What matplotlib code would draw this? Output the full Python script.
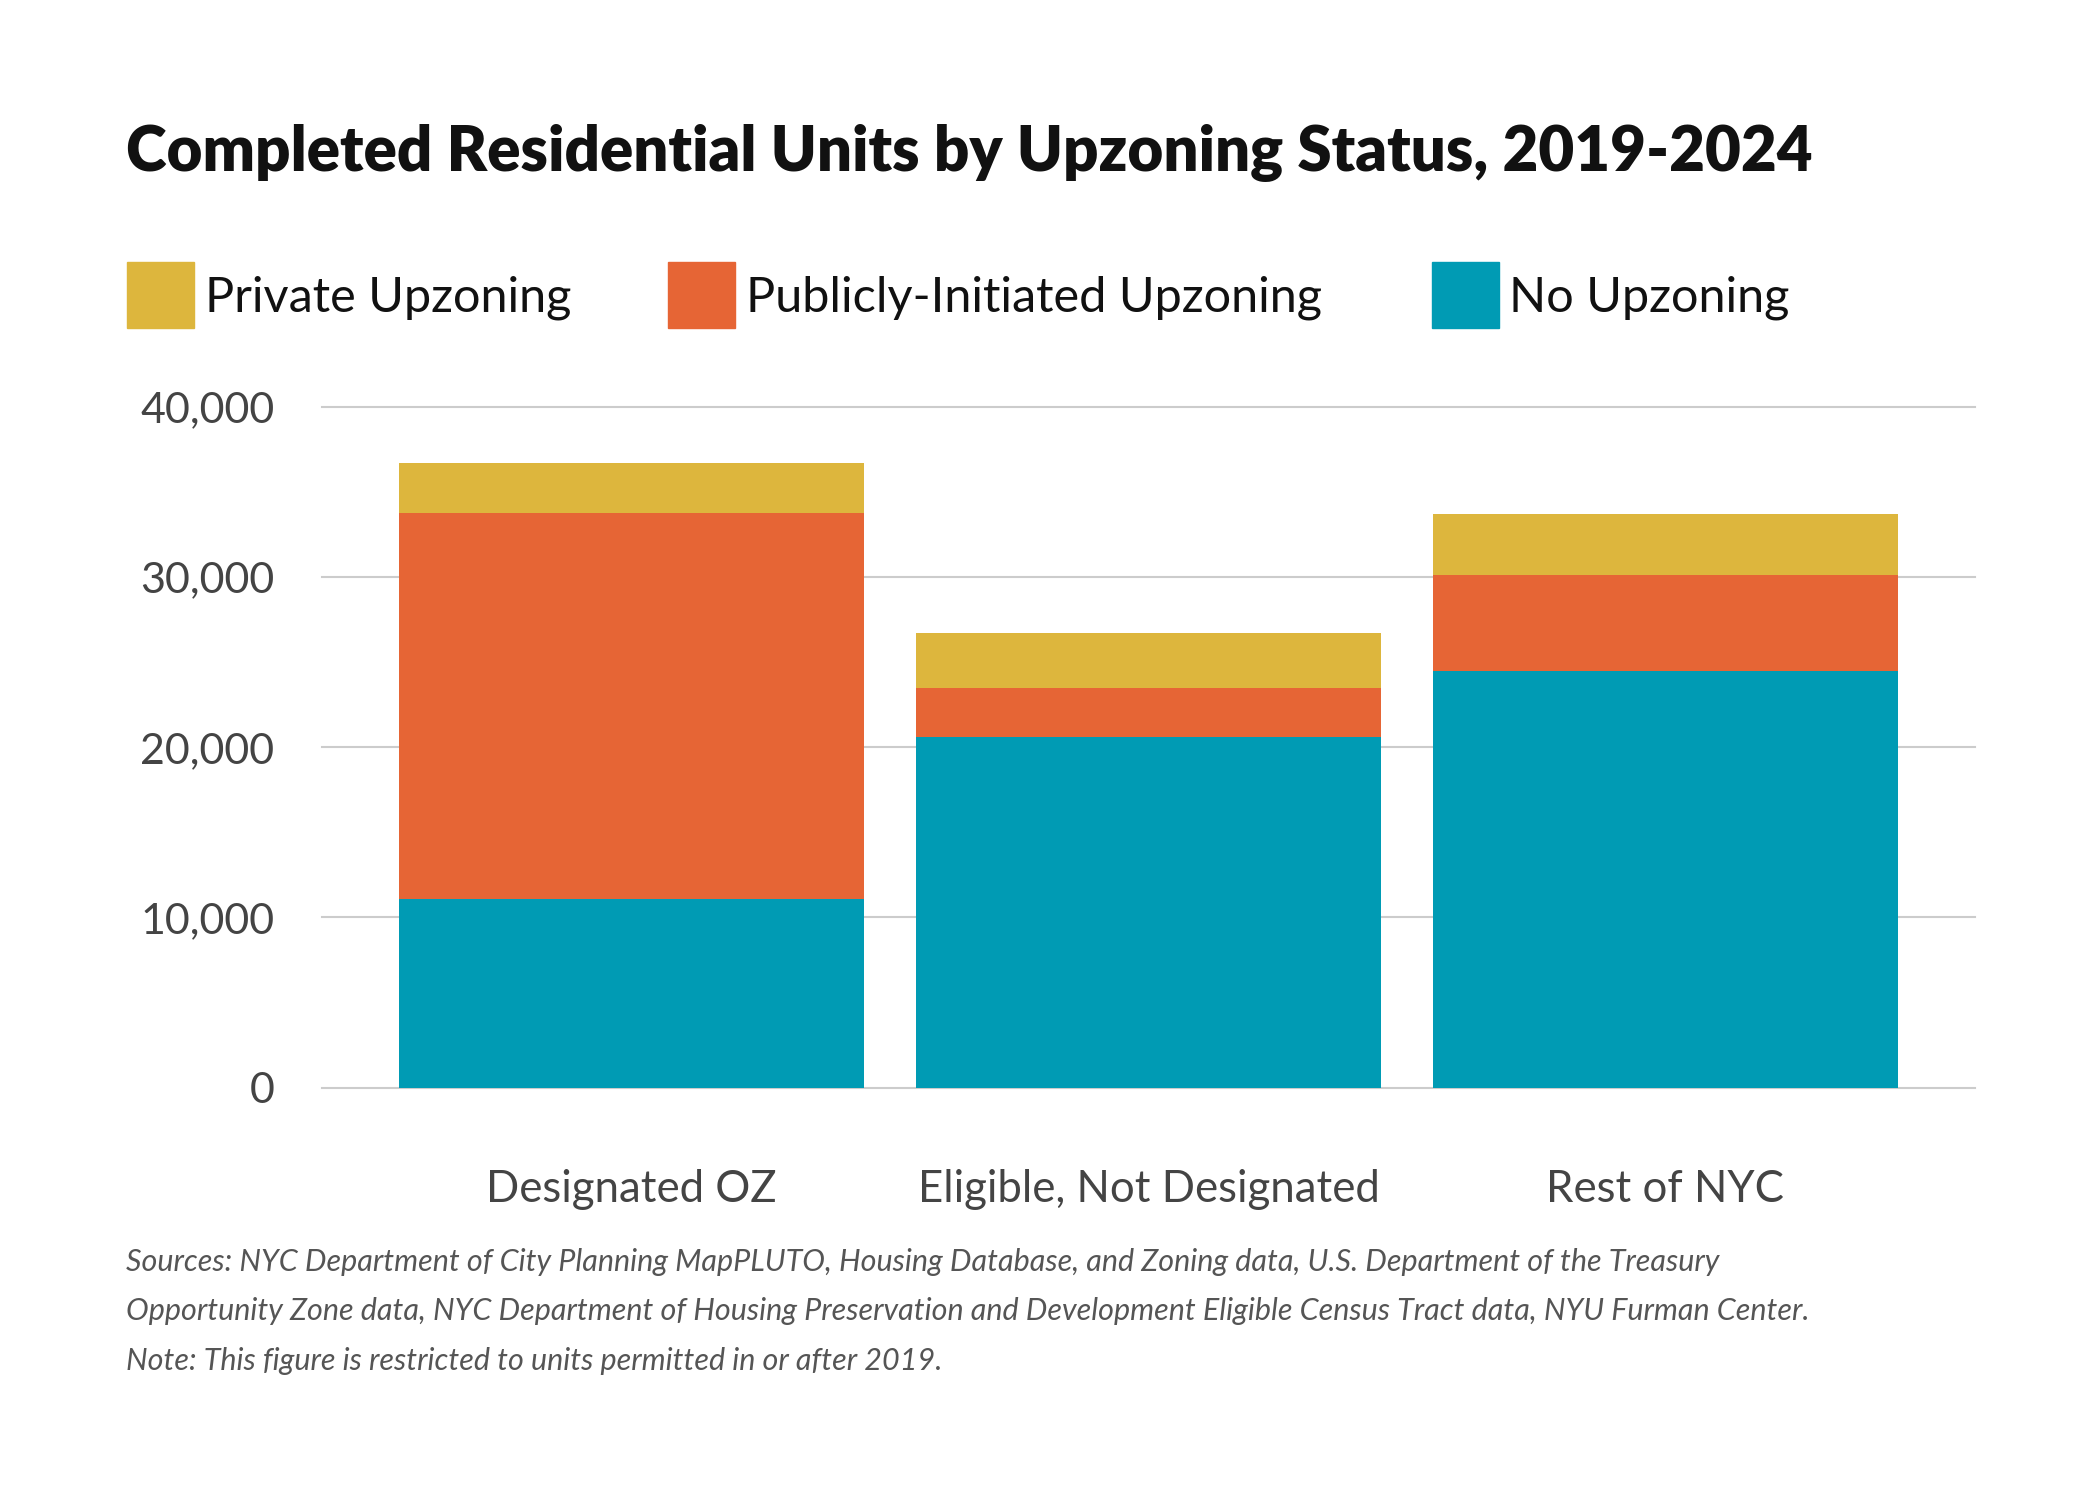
import matplotlib
matplotlib.use("Agg")
import matplotlib.pyplot as plt
from matplotlib.patches import Rectangle

categories = ["Designated OZ", "Eligible, Not Designated", "Rest of NYC"]
no_upzoning = [11100, 20600, 24500]
public_upzoning = [22700, 2900, 5600]
private_upzoning = [2900, 3200, 3600]
series_names = ["Private Upzoning", "Publicly-Initiated Upzoning", "No Upzoning"]
colors = {"Private Upzoning": "#DDB63D",
          "Publicly-Initiated Upzoning": "#E66535",
          "No Upzoning": "#009BB4"}
y_ticks = [0, 10000, 20000, 30000, 40000]

plt.rcParams['font.family'] = ['Lato', 'DejaVu Sans']

fig = plt.figure(figsize=(21, 15), dpi=100)
ax = fig.add_axes([0.1531, 0.275, 0.7876, 0.4536])

x = list(range(len(categories)))
ax.bar(x, no_upzoning, width=0.9, color=colors["No Upzoning"], zorder=3)
ax.bar(x, public_upzoning, width=0.9, bottom=no_upzoning,
       color=colors["Publicly-Initiated Upzoning"], zorder=3)
bottom2 = [a + b for a, b in zip(no_upzoning, public_upzoning)]
ax.bar(x, private_upzoning, width=0.9, bottom=bottom2,
       color=colors["Private Upzoning"], zorder=3)

ax.set_xlim(-0.6, 2.6)
ax.set_ylim(0, 40000)
ax.set_yticks(y_ticks)
ax.set_yticklabels([f"{v:,}" for v in y_ticks], fontsize=31, color="#444444")
ax.yaxis.grid(True, color="#cccccc", linewidth=1.5, zorder=0)
ax.tick_params(axis="y", length=0, pad=34)
ax.tick_params(axis="x", length=0, pad=59)
ax.set_xticks(x)
ax.set_xticklabels(categories, fontsize=31.5, color="#444444")
for s in ax.spines.values():
    s.set_visible(False)
for gl in ax.get_ygridlines():
    gl.set_clip_on(False)

fig.text(0.0600, 0.886, "Completed Residential Units by Upzoning Status, 2019-2024",
         fontsize=44.5, fontweight="heavy", color="#111111", va="baseline")

legend_x = [0.0606, 0.3182, 0.6818]
for name, lx in zip(series_names, legend_x):
    fig.patches.append(Rectangle((lx, 0.7813), 0.0319, 0.0438, transform=fig.transFigure,
                                 color=colors[name], figure=fig))
    fig.text(lx + 0.037, 0.8015, name, fontsize=35, color="#111111", va="center")

notes = ["Sources: NYC Department of City Planning MapPLUTO, Housing Database, and Zoning data, U.S. Department of the Treasury",
         "Opportunity Zone data, NYC Department of Housing Preservation and Development Eligible Census Tract data, NYU Furman Center.",
         "Note: This figure is restricted to units permitted in or after 2019."]
for i, line in enumerate(notes):
    fig.text(0.0600, 0.159 - i * 0.0333, line, fontsize=22, style="italic",
             color="#555555", va="center")

fig.savefig("out.png", dpi=100, facecolor="white")
